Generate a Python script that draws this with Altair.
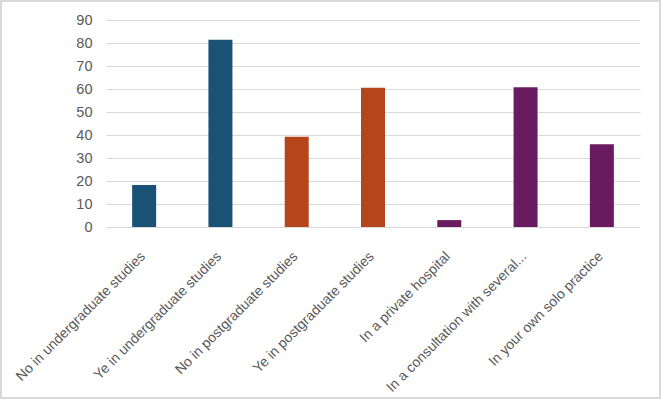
import altair as alt
import pandas as pd

categories = [
    "No in undergraduate studies",
    "Ye in undergraduate studies",
    "No in postgraduate studies",
    "Ye in postgraduate studies",
    "In a private hospital",
    "In a consultation with several...",
    "In your own solo practice",
]
values = [18.3, 81.4, 39.2, 60.5, 3.0, 60.8, 36.0]
groups = ["undergrad", "undergrad", "postgrad", "postgrad", "work", "work", "work"]
group_colors = ["#1A5276", "#B5451B", "#6A1A5E"]
group_names = ["undergrad", "postgrad", "work"]
y_ticks = [0, 10, 20, 30, 40, 50, 60, 70, 80, 90]

df = pd.DataFrame({"cat": categories, "value": values, "group": groups})

W, H = 534, 207
PL, PT, PR, PB = 106, 20, 21, 172

bars = alt.Chart(df).mark_bar(size=24).encode(
    x=alt.X("cat:N", sort=categories, title=None,
            axis=alt.Axis(labelAngle=-45, labelFontSize=14, labelColor="#595959",
                          labelFont="Liberation Sans, sans-serif",
                          ticks=False, domain=False, labelPadding=22, labelOffset=-6,
                          labelLimit=300)),
    y=alt.Y("value:Q", title=None, scale=alt.Scale(domain=[0, 90], nice=False),
            axis=alt.Axis(values=y_ticks, labelFontSize=14.5, labelColor="#595959",
                          labelFont="Liberation Sans, sans-serif",
                          ticks=False, domain=False, gridColor="#D9D9D9",
                          gridWidth=1.2, labelPadding=14)),
    color=alt.Color("group:N", scale=alt.Scale(domain=group_names, range=group_colors),
                    legend=None),
)

border = alt.Chart(df).mark_rect(fill=None, stroke="#D9D9D9", strokeWidth=1.5).encode(
    x=alt.value(-PL + 1), x2=alt.value(W + PR - 1),
    y=alt.value(-PT + 1), y2=alt.value(H + PB - 1),
)

chart = alt.layer(bars, border).properties(
    width=W, height=H,
    padding={"left": PL, "top": PT, "right": PR, "bottom": PB},
    autosize=alt.AutoSizeParams(type="none"),
    background="white",
).configure_view(stroke=None)

chart.save("out.html", embed_options={"renderer": "svg", "actions": False})
